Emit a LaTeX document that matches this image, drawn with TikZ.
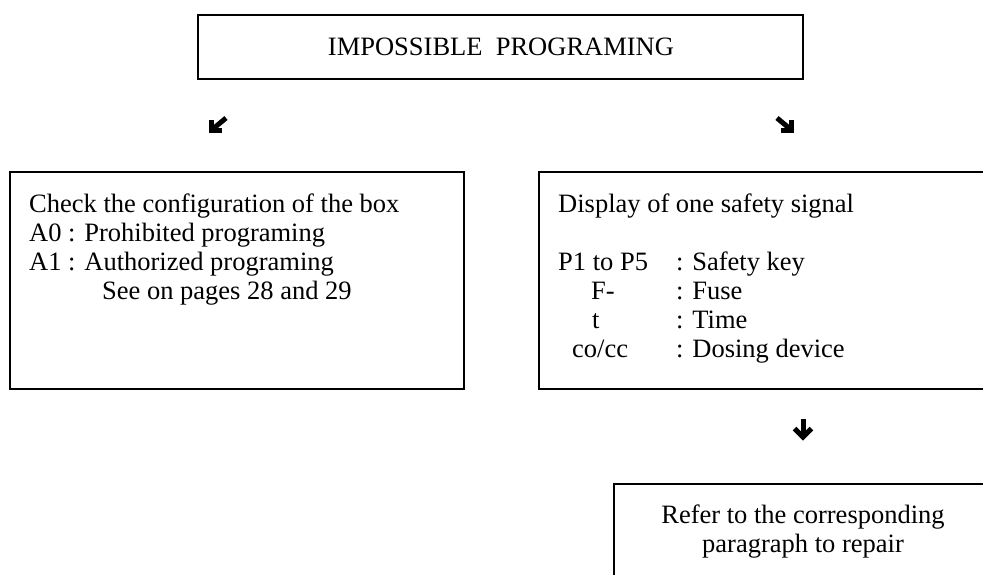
\documentclass[tikz,border=0pt]{standalone}
\usepackage{fontspec}
\setmainfont{Liberation Serif}
\begin{document}
\begin{tikzpicture}[x=1pt,y=-1pt,
  box/.style={draw, line width=2.2pt, rectangle, inner sep=0pt, anchor=north west},
  txt/.style={inner sep=0pt, font=\fontsize{26.5pt}{29pt}\selectfont, anchor=base west},
  ctxt/.style={txt, anchor=base},
  glyph/.style={line width=5pt, line cap=butt, line join=miter}]
\useasboundingbox (0,0) rectangle (983,574);
\clip (0,0) rectangle (983,574);
% boxes
\node[box, minimum width=605pt, minimum height=64pt] (topbox) at (197,14) {};
\node[box, minimum width=454pt, minimum height=217pt] (leftbox) at (9,171) {};
\node[box, minimum width=470pt, minimum height=217pt] (rightbox) at (538,171) {};
\node[box, minimum width=390pt, minimum height=130pt] (bottombox) at (613,483) {};
% texts
\node[ctxt] (title) at (501,55) {IMPOSSIBLE\ \ PROGRAMING};
\node[txt] (l1) at (29,212) {Check the configuration of the box};
\node[txt] (l2) at (29,241) {A0 : Prohibited programing};
\node[txt] (l3) at (29,270) {A1 : Authorized programing};
\node[txt] (l4) at (102,299) {See on pages 28 and 29};
\node[txt] (r1) at (558,212) {Display of one safety signal};
\node[txt] (r2a) at (558,270) {P1 to P5};
\node[txt] (r2b) at (676,270) {: Safety key};
\node[txt] (r3a) at (591,299) {F-};
\node[txt] (r3b) at (676,299) {: Fuse};
\node[txt] (r4a) at (592,328) {t};
\node[txt] (r4b) at (676,328) {: Time};
\node[txt] (r5a) at (572,357) {co/cc};
\node[txt] (r5b) at (676,357) {: Dosing device};
\node[ctxt] (b1) at (803,523) {Refer to the corresponding};
\node[ctxt] (b2) at (803,552) {paragraph to repair};
% arrow glyphs
\coordinate (swS) at (226,118); \coordinate (swE) at (214,128);
\coordinate (swA) at (211.5,120); \coordinate (swT) at (211.5,130.5); \coordinate (swB) at (222,130.5);
\draw[glyph] (swS) -- (swE);
\draw[glyph] (swA) -- (swT) -- (swB);
\coordinate (seS) at (777,118); \coordinate (seE) at (789,128);
\coordinate (seA) at (791.5,120); \coordinate (seT) at (791.5,130.5); \coordinate (seB) at (781,130.5);
\draw[glyph] (seS) -- (seE);
\draw[glyph] (seA) -- (seT) -- (seB);
\coordinate (dnS) at (803,419); \coordinate (dnE) at (803,436);
\coordinate (dnA) at (794.5,428.5); \coordinate (dnT) at (803,437); \coordinate (dnB) at (811.5,428.5);
\draw[glyph] (dnS) -- (dnE);
\draw[glyph] (dnA) -- (dnT) -- (dnB);
\end{tikzpicture}
\end{document}
